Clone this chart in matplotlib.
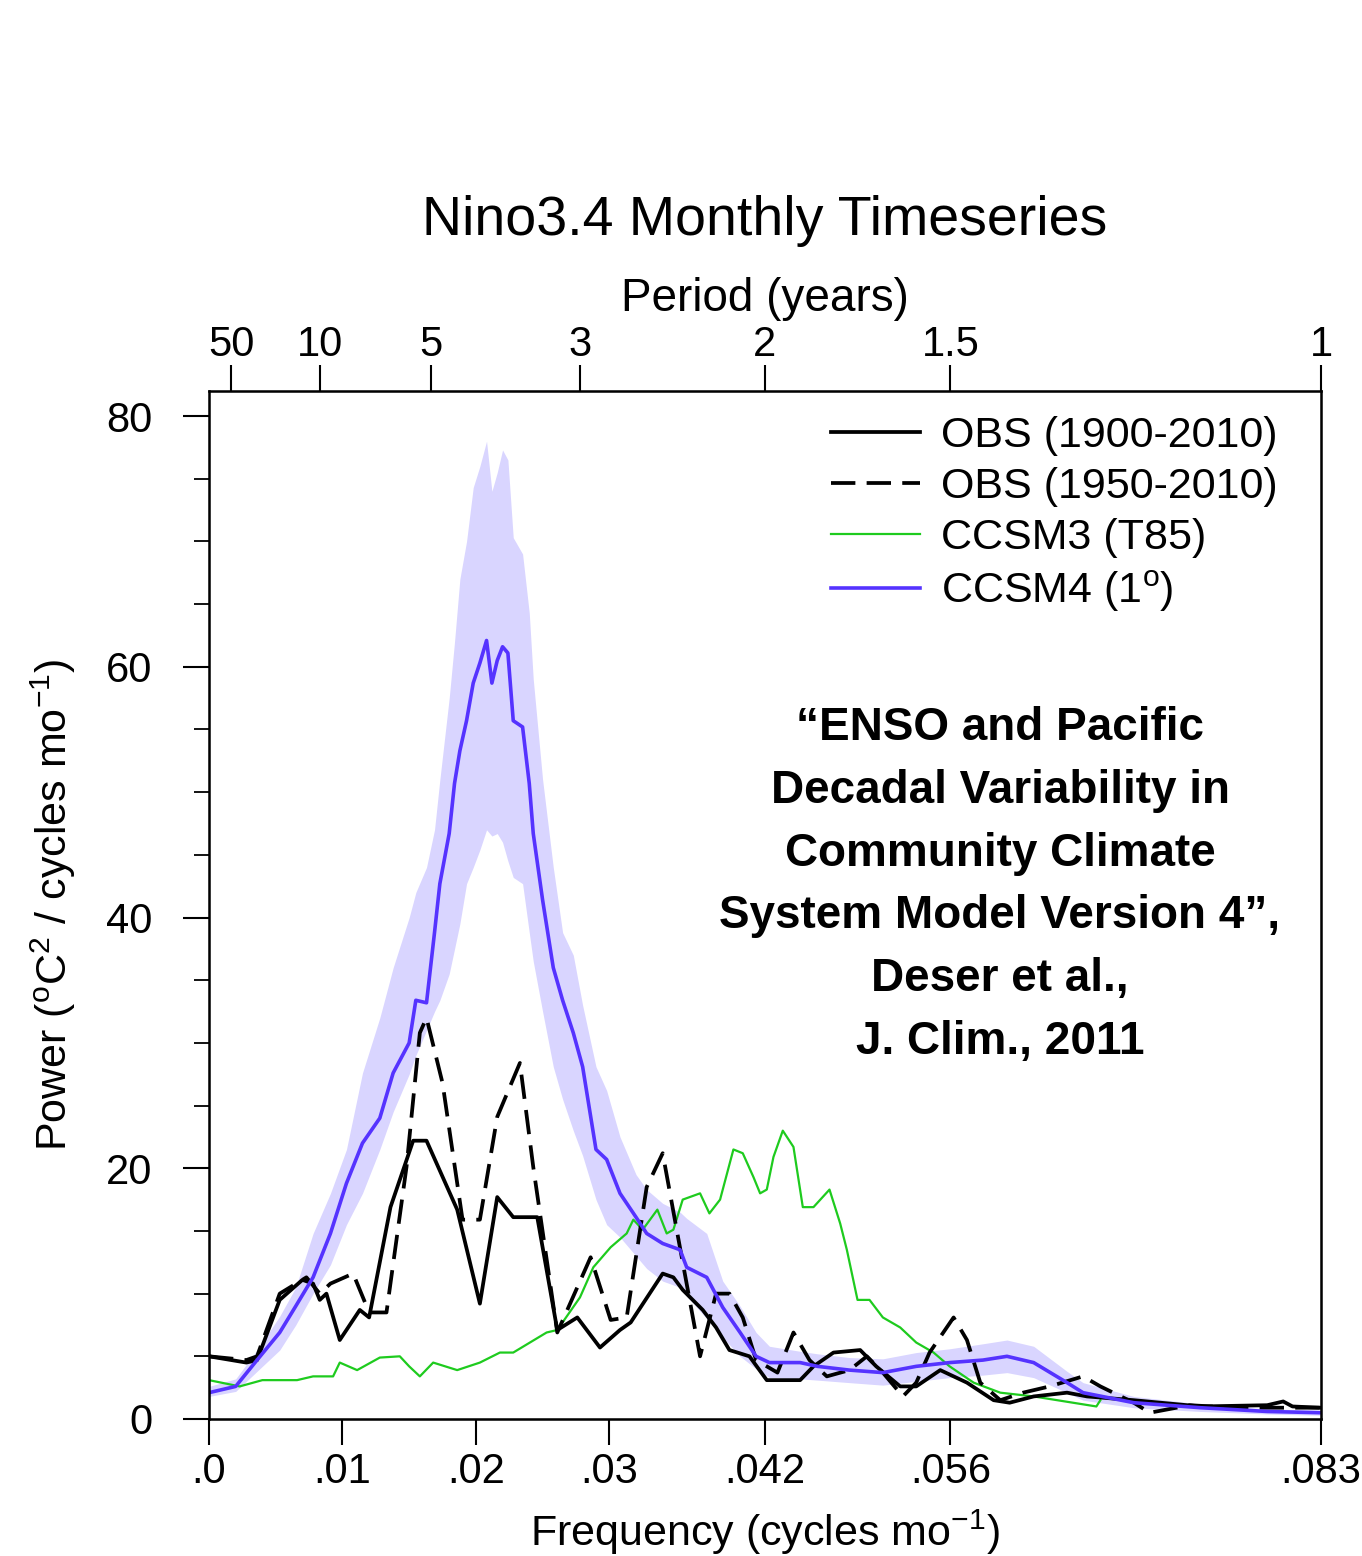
import numpy as np
import matplotlib
matplotlib.use("Agg")
import matplotlib.pyplot as plt

plt.rcParams["font.family"] = ["Liberation Sans", "DejaVu Sans"]
plt.rcParams["mathtext.fontset"] = "custom"
plt.rcParams["mathtext.rm"] = "Liberation Sans"
plt.rcParams["mathtext.it"] = "Liberation Sans:italic"

# CCSM4 (1 deg): ensemble mean line and spread band
f_ccsm4 = [0.0, 0.002, 0.0036, 0.0053, 0.0065, 0.0078, 0.0091, 0.0103, 0.0115, 0.0128,
           0.0138, 0.015, 0.0155, 0.0163, 0.0169, 0.0173, 0.018, 0.0184, 0.0188, 0.0193,
           0.0198, 0.0203, 0.0208, 0.0212, 0.0216, 0.022, 0.0224, 0.0228, 0.0235, 0.024,
           0.0243, 0.025, 0.0258, 0.0265, 0.0273, 0.028, 0.029, 0.0298, 0.0308, 0.032,
           0.0328, 0.034, 0.0353, 0.0358, 0.0373, 0.0385, 0.0398, 0.041, 0.042, 0.0443,
           0.0456, 0.048, 0.0505, 0.053, 0.0555, 0.058, 0.0598, 0.0618, 0.0643, 0.0655,
           0.0693, 0.0743, 0.0793, 0.0833]
p_ccsm4 = [2.1, 2.6, 4.7, 6.9, 9.0, 11.3, 14.8, 18.8, 22.0, 24.0,
           27.6, 30.0, 33.4, 33.2, 38.8, 42.7, 46.7, 50.7, 53.3, 55.7,
           58.7, 60.3, 62.1, 58.7, 60.5, 61.6, 61.1, 55.7, 55.2, 50.7,
           46.7, 41.4, 36.0, 33.4, 30.8, 28.1, 21.5, 20.7, 18.0, 16.1,
           14.8, 14.0, 13.5, 12.1, 11.3, 8.9, 6.9, 5.0, 4.5, 4.5,
           4.2, 3.9, 3.7, 4.2, 4.5, 4.7, 5.0, 4.5, 2.9, 2.1,
           1.3, 0.9, 0.6, 0.5]
hi_ccsm4 = [2.6, 3.2, 5.5, 8.2, 10.5, 14.8, 18.0, 21.5, 27.6, 32.0,
            36.0, 40.0, 42.0, 44.0, 47.0, 51.0, 57.5, 62.0, 67.0, 70.0,
            74.3, 76.0, 78.0, 74.0, 75.5, 77.3, 76.5, 70.3, 69.0, 64.3,
            59.0, 51.0, 44.0, 38.8, 37.0, 33.0, 28.1, 26.2, 22.5, 19.5,
            18.3, 17.2, 16.5, 16.0, 14.8, 11.0, 9.0, 6.9, 5.8, 5.4,
            5.2, 4.9, 4.8, 5.3, 5.6, 6.0, 6.3, 5.8, 3.8, 2.9,
            1.8, 1.2, 0.8, 0.7]
lo_ccsm4 = [1.8, 2.2, 3.8, 5.5, 7.5, 10.0, 12.3, 15.5, 18.0, 21.5,
            24.5, 27.5, 29.0, 31.0, 32.5, 33.4, 35.5, 37.5, 39.5, 42.7,
            44.0, 45.4, 47.0, 46.5, 46.7, 46.0, 44.5, 43.2, 42.7, 38.8,
            36.5, 32.5, 28.1, 25.5, 23.0, 21.0, 17.5, 15.5, 14.5, 13.0,
            12.0, 11.0, 10.5, 9.8, 8.0, 6.5, 5.0, 4.0, 3.3, 3.2,
            3.1, 2.9, 2.7, 3.0, 3.3, 3.5, 3.7, 3.3, 2.1, 1.5,
            0.9, 0.6, 0.4, 0.3]

# CCSM3 (T85)
f_ccsm3 = [0.0, 0.0023, 0.004, 0.0066, 0.0078, 0.0093, 0.0098, 0.0111, 0.0128, 0.0143,
           0.015, 0.0158, 0.0168, 0.0186, 0.0203, 0.0218, 0.0228, 0.0253, 0.0261, 0.0278,
           0.0288, 0.0301, 0.0313, 0.0318, 0.0325, 0.0336, 0.0343, 0.0348, 0.0355, 0.0368,
           0.0375, 0.0383, 0.0393, 0.04, 0.0408, 0.0413, 0.0418, 0.0423, 0.043, 0.0438,
           0.0445, 0.0453, 0.0465, 0.0473, 0.0478, 0.0486, 0.0495, 0.0505, 0.0518, 0.053,
           0.0543, 0.0555, 0.0573, 0.0593, 0.0618, 0.0665, 0.0668]
p_ccsm3 = [3.1, 2.6, 3.1, 3.1, 3.4, 3.4, 4.5, 3.9, 4.9, 5.0,
           4.2, 3.4, 4.5, 3.9, 4.5, 5.3, 5.3, 6.9, 7.1, 9.7,
           12.1, 13.7, 14.8, 15.9, 15.1, 16.7, 14.8, 15.1, 17.5, 18.0,
           16.4, 17.5, 21.5, 21.2, 19.3, 18.0, 18.3, 20.9, 23.0, 21.7,
           16.9, 16.9, 18.3, 15.6, 13.5, 9.5, 9.5, 8.1, 7.3, 6.1,
           5.3, 4.2, 2.9, 2.1, 1.8, 1.0, 1.5]

# OBS (1900-2010)
f_obs1 = [0.0, 0.0028, 0.0036, 0.0053, 0.007, 0.0078, 0.0083, 0.0088, 0.0098, 0.0113,
          0.012, 0.0136, 0.0153, 0.0163, 0.0186, 0.0203, 0.0216, 0.0228, 0.0246, 0.0261,
          0.0276, 0.0293, 0.0308, 0.0316, 0.034, 0.0348, 0.0355, 0.037, 0.038, 0.039,
          0.0405, 0.0418, 0.0443, 0.0453, 0.0468, 0.0488, 0.05, 0.0518, 0.053, 0.0548,
          0.0568, 0.0588, 0.06, 0.0618, 0.0643, 0.0658, 0.0693, 0.0743, 0.0793, 0.0805,
          0.0812, 0.0833]
p_obs1 = [5.0, 4.5, 4.7, 9.5, 11.1, 10.8, 9.5, 10.0, 6.3, 8.7,
          8.1, 16.9, 22.2, 22.2, 16.7, 9.2, 17.7, 16.1, 16.1, 7.1,
          8.1, 5.7, 7.1, 7.7, 11.6, 11.3, 10.3, 8.7, 7.3, 5.5,
          5.0, 3.1, 3.1, 4.2, 5.3, 5.5, 4.2, 2.6, 2.6, 3.9,
          2.9, 1.5, 1.3, 1.8, 2.1, 1.8, 1.5, 1.0, 1.1, 1.4,
          1.0, 0.9]

# OBS (1950-2010)
f_obs2 = [0.0, 0.0028, 0.0036, 0.0053, 0.0073, 0.0083, 0.0091, 0.0108, 0.012, 0.0133,
          0.0148, 0.0158, 0.0163, 0.0175, 0.019, 0.0203, 0.0216, 0.0233, 0.0243, 0.0261,
          0.0276, 0.0286, 0.0301, 0.0313, 0.0328, 0.034, 0.0351, 0.0368, 0.038, 0.039,
          0.04, 0.041, 0.0426, 0.0438, 0.045, 0.0463, 0.048, 0.0493, 0.0505, 0.052,
          0.053, 0.054, 0.0558, 0.0568, 0.0578, 0.0593, 0.061, 0.063, 0.0655, 0.0668,
          0.0693, 0.0705, 0.071, 0.0735, 0.0768, 0.0833]
p_obs2 = [5.0, 4.7, 5.0, 10.0, 11.3, 10.0, 10.8, 11.6, 8.5, 8.5,
          20.1, 30.8, 32.0, 26.8, 15.9, 15.9, 24.1, 28.4, 20.1, 6.9,
          10.5, 12.9, 7.9, 8.1, 18.5, 21.2, 14.8, 5.0, 10.0, 10.0,
          8.1, 4.7, 3.7, 6.9, 4.7, 3.4, 3.9, 5.0, 3.7, 1.8,
          2.9, 5.3, 8.1, 6.3, 2.9, 1.5, 2.1, 2.6, 3.4, 2.6,
          1.3, 0.5, 0.6, 1.1, 0.9, 0.9]

freq_ticks = [0.0, 0.01, 0.02, 0.03, 1 / 24, 1 / 18, 1 / 12]
freq_labels = [".0", ".01", ".02", ".03", ".042", ".056", ".083"]
period_years = [50, 10, 5, 3, 2, 1.5, 1]
period_labels = ["50", "10", "5", "3", "2", "1.5", "1"]

citation = ("\u201cENSO and Pacific\nDecadal Variability in\nCommunity Climate\n"
            "System Model Version 4\u201d,\nDeser et al.,\nJ. Clim., 2011")

fig = plt.figure(figsize=(13.62, 15.56), dpi=100)
ax = fig.add_axes([209 / 1362, 1 - 1419 / 1556, 1112 / 1362, 1028 / 1556])

band_col = "#d9d5ff"
blue_col = "#5533ff"
green_col = "#1ecb1e"

ax.fill_between(f_ccsm4, lo_ccsm4, hi_ccsm4, color=band_col, lw=0)
ax.plot(f_ccsm3, p_ccsm3, color=green_col, lw=1.6, label="CCSM3 (T85)")
ax.plot(f_obs1, p_obs1, color="black", lw=2.7, label="OBS (1900-2010)")
ax.plot(f_obs2, p_obs2, color="black", lw=2.7, dashes=[6.5, 3], label="OBS (1950-2010)")
ax.plot(f_ccsm4, p_ccsm4, color=blue_col, lw=2.6, label="CCSM4 (1$^{\\rm o}$)")

ax.set_xlim(0, 1 / 12)
ax.set_ylim(0, 82)

ax.set_xticks(freq_ticks)
ax.set_xticklabels(freq_labels)
ax.set_yticks([0, 20, 40, 60, 80])
ax.set_yticks(np.arange(0, 81, 5), minor=True)
ax.tick_params(axis="both", which="major", direction="out", length=19, width=1.5,
               labelsize=30, pad=5)
ax.tick_params(axis="y", which="major", pad=22)
ax.tick_params(axis="y", which="minor", direction="out", length=11, width=1.3)
for s in ax.spines.values():
    s.set_linewidth(1.8)

ax.set_xlabel("Frequency (cycles mo$^{-1}$)", fontsize=31, labelpad=11)
ax.set_ylabel("Power ($^{\\rm o}$C$^2$ / cycles mo$^{-1}$)", fontsize=31, labelpad=20)

top = ax.twiny()
top.set_xlim(ax.get_xlim())
top.set_xticks([1 / (12 * p) for p in period_years])
top.set_xticklabels(period_labels)
top.tick_params(axis="x", direction="out", length=19, width=1.5, labelsize=30, pad=0)
top.set_xlabel("Period (years)", fontsize=33, labelpad=10)
top.set_title("Nino3.4 Monthly Timeseries", fontsize=40, pad=30)

handles, labels = ax.get_legend_handles_labels()
order = [1, 2, 0, 3]
ax.legend([handles[i] for i in order], [labels[i] for i in order],
          loc="upper right", bbox_to_anchor=(0.996, 1.013), frameon=False,
          fontsize=31, handlelength=2.05, handletextpad=0.5, labelspacing=0.25)

fig.text(1000 / 1362, 1 - 885 / 1556, citation, ha="center", va="center",
         fontsize=33, fontweight="bold", linespacing=1.55)

fig.savefig("out.png", dpi=100)
